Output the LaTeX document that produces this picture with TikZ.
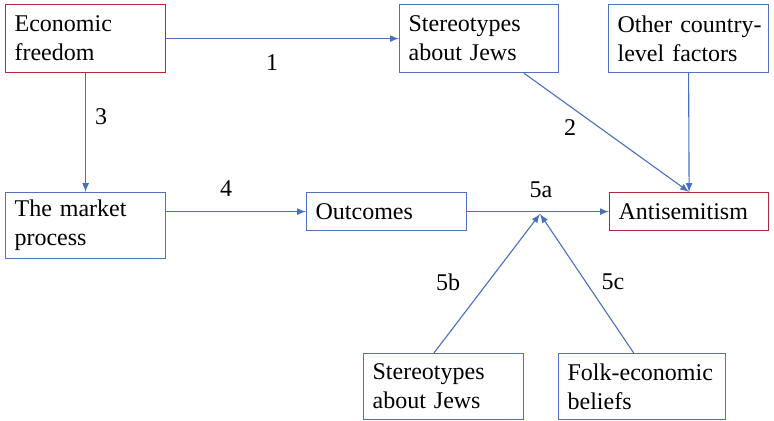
\documentclass[tikz,border=0pt]{standalone}
\usepackage{fontspec}
\setmainfont{Liberation Serif}
\usepackage{tikz}
\usetikzlibrary{calc,arrows,positioning}

\definecolor{boxblue}{RGB}{79,114,185}
\definecolor{boxred}{RGB}{178,40,58}
\definecolor{lineblue}{RGB}{72,112,190}

\begin{document}
\begin{tikzpicture}[x=0.5pt,y=-0.5pt,
		box/.style={draw=boxblue, rectangle, anchor=north west, align=left, inner xsep=4.5pt, inner ysep=0pt, line width=0.6pt, font=\fontsize{12}{14.5}\selectfont},
		redbox/.style={box, draw=boxred},
		link/.style={->,>=latex, lineblue, line width=0.55pt},
		lbl/.style={font=\fontsize{12}{14.5}\selectfont, inner sep=0pt}]
		
		\useasboundingbox (0,0) rectangle (774,421);
		
		% top row
		\node[redbox, text width=71pt, minimum height=34pt] (econ) at (5,4) {Economic\\freedom};
		\node[box, text width=70.5pt, minimum height=34pt] (stereoA) at (399,4) {Stereotypes\\about Jews};
		\node[box, text width=71pt, minimum height=34pt] (other) at (608,4) {\mbox{Other country-}\\level factors};
		
		% middle row
		\node[box, text width=71pt, minimum height=33pt] (market) at (5,192) {The market\\process};
		\node[box, text width=71pt, minimum height=19pt] (outcomes) at (306,192) {Outcomes};
		\node[redbox, text width=70.5pt, minimum height=19pt] (anti) at (609,192) {Antisemitism};
		
		% bottom row
		\node[box, text width=71pt, minimum height=33pt] (stereoB) at (363,353) {Stereotypes\\about Jews};
		\node[box, text width=74.5pt, minimum height=33pt] (folk) at (558,353) {\mbox{Folk-economic}\\beliefs};
		
		% links
		\draw[link] (econ.east) -- (stereoA.west);
		\draw[link] (econ.south) -- (market.north);
		\draw[link] ($(stereoA.south west)!0.78!(stereoA.south east)$) -- (anti.north);
		\draw[link] (other.south) -- (anti.north);
		\draw[link] (market.east |- outcomes.west) -- (outcomes.west);
		\draw[link] (outcomes.east) -- (anti.west);
		
		\coordinate (mod) at (540,214);
		\draw[link] ($(stereoB.north west)!0.44!(stereoB.north east)$) -- (mod);
		\draw[link] ($(folk.north west)!0.45!(folk.north east)$) -- (mod);
		
		% labels
		\node[lbl] (l1) at (272,63) {1};
		\node[lbl] (l2) at (570,128) {2};
		\node[lbl] (l3) at (101,117) {3};
		\node[lbl] (l4) at (226,189) {4};
		\node[lbl] (l5a) at (541,190) {5a};
		\node[lbl] (l5b) at (448,282) {5b};
		\node[lbl] (l5c) at (613,282) {5c};
		
	\end{tikzpicture}
\end{document}
